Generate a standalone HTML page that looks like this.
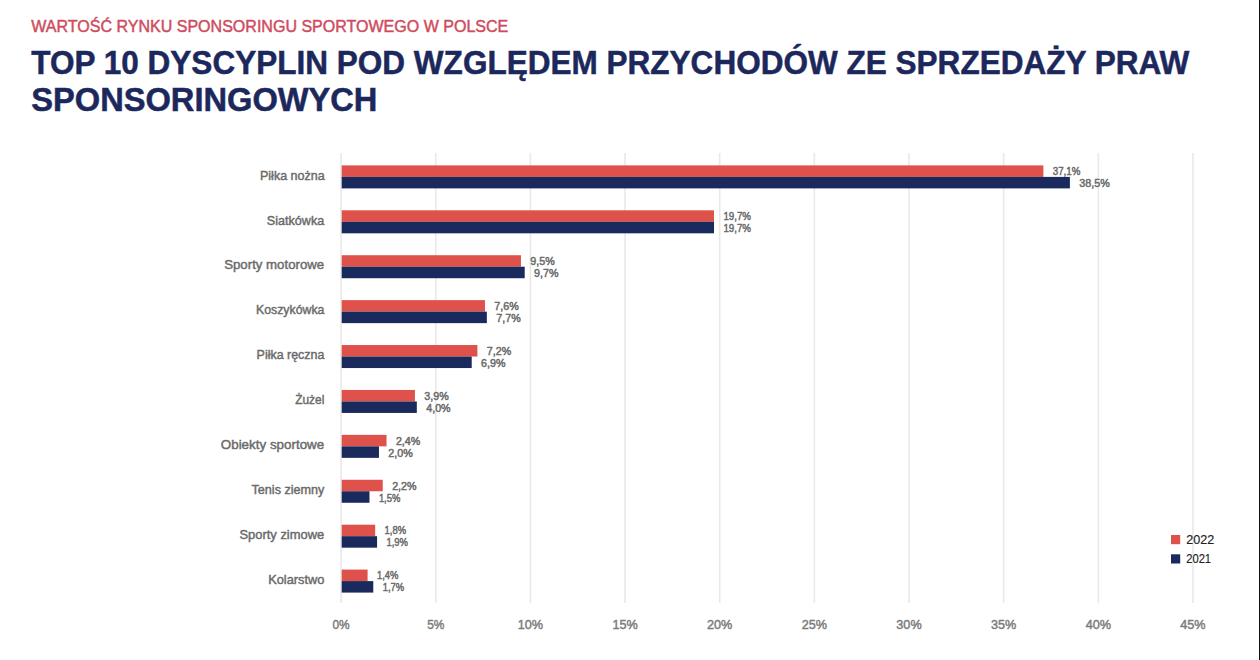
<!DOCTYPE html>
<html><head><meta charset="utf-8"><style>
html,body{margin:0;padding:0;background:#fff;}
body{width:1260px;height:660px;overflow:hidden;}
svg{display:block;}
text{font-family:"Liberation Sans",sans-serif;}
.st{font-size:16px;fill:#CF4C5E;stroke:#CF4C5E;stroke-width:0.45px;}
.t1,.t2{font-size:32.5px;font-weight:bold;fill:#1C285C;stroke:#1C285C;stroke-width:0.5px;}
.cl{font-size:13.5px;fill:#6A6A6A;stroke:#6A6A6A;stroke-width:0.45px;}
.dl{font-size:11.5px;fill:#6A6A6A;stroke:#6A6A6A;stroke-width:0.5px;}
.al{font-size:13.4px;fill:#7A7A7A;stroke:#7A7A7A;stroke-width:0.45px;}
.lg{font-size:12.3px;fill:#222;stroke:#222;stroke-width:0.15px;}
</style></head><body>
<svg width="1260" height="660" viewBox="0 0 1260 660">
<rect width="1260" height="660" fill="#fff"/>
<rect x="340.30" y="153" width="1.6" height="450" fill="#E9E9E9"/>
<rect x="434.95" y="153" width="1.6" height="450" fill="#E9E9E9"/>
<rect x="529.60" y="153" width="1.6" height="450" fill="#E9E9E9"/>
<rect x="624.25" y="153" width="1.6" height="450" fill="#E9E9E9"/>
<rect x="718.90" y="153" width="1.6" height="450" fill="#E9E9E9"/>
<rect x="813.55" y="153" width="1.6" height="450" fill="#E9E9E9"/>
<rect x="908.20" y="153" width="1.6" height="450" fill="#E9E9E9"/>
<rect x="1002.85" y="153" width="1.6" height="450" fill="#E9E9E9"/>
<rect x="1097.50" y="153" width="1.6" height="450" fill="#E9E9E9"/>
<rect x="1192.15" y="153" width="1.6" height="450" fill="#E9E9E9"/>
<rect x="341.70" y="165.40" width="701.70" height="11.5" fill="#DF514B"/>
<rect x="341.70" y="176.90" width="728.20" height="11.5" fill="#1B2A5D"/>
<text class="dl" x="1052.80" y="175.20" textLength="27.60" lengthAdjust="spacingAndGlyphs">37,1%</text>
<text class="dl" x="1079.31" y="187.20" textLength="30.50" lengthAdjust="spacingAndGlyphs">38,5%</text>
<text class="cl" x="260.00" y="179.60" textLength="64.60" lengthAdjust="spacingAndGlyphs">Piłka nożna</text>
<rect x="341.70" y="210.31" width="372.32" height="11.5" fill="#DF514B"/>
<rect x="341.70" y="221.81" width="372.32" height="11.5" fill="#1B2A5D"/>
<text class="dl" x="723.42" y="220.11" textLength="27.60" lengthAdjust="spacingAndGlyphs">19,7%</text>
<text class="dl" x="723.42" y="232.11" textLength="27.60" lengthAdjust="spacingAndGlyphs">19,7%</text>
<text class="cl" x="266.80" y="224.51" textLength="57.40" lengthAdjust="spacingAndGlyphs">Siatkówka</text>
<rect x="341.70" y="255.22" width="179.24" height="11.5" fill="#DF514B"/>
<rect x="341.70" y="266.72" width="183.02" height="11.5" fill="#1B2A5D"/>
<text class="dl" x="530.34" y="265.02" textLength="24.40" lengthAdjust="spacingAndGlyphs">9,5%</text>
<text class="dl" x="534.12" y="277.02" textLength="24.40" lengthAdjust="spacingAndGlyphs">9,7%</text>
<text class="cl" x="224.20" y="269.42" textLength="100.00" lengthAdjust="spacingAndGlyphs">Sporty motorowe</text>
<rect x="341.70" y="300.13" width="143.27" height="11.5" fill="#DF514B"/>
<rect x="341.70" y="311.63" width="145.16" height="11.5" fill="#1B2A5D"/>
<text class="dl" x="494.37" y="309.93" textLength="24.40" lengthAdjust="spacingAndGlyphs">7,6%</text>
<text class="dl" x="496.26" y="321.93" textLength="24.40" lengthAdjust="spacingAndGlyphs">7,7%</text>
<text class="cl" x="256.00" y="314.33" textLength="68.40" lengthAdjust="spacingAndGlyphs">Koszykówka</text>
<rect x="341.70" y="345.04" width="135.70" height="11.5" fill="#DF514B"/>
<rect x="341.70" y="356.54" width="130.02" height="11.5" fill="#1B2A5D"/>
<text class="dl" x="486.80" y="354.84" textLength="24.40" lengthAdjust="spacingAndGlyphs">7,2%</text>
<text class="dl" x="481.12" y="366.84" textLength="24.40" lengthAdjust="spacingAndGlyphs">6,9%</text>
<text class="cl" x="256.60" y="359.24" textLength="67.80" lengthAdjust="spacingAndGlyphs">Piłka ręczna</text>
<rect x="341.70" y="389.95" width="73.23" height="11.5" fill="#DF514B"/>
<rect x="341.70" y="401.45" width="75.12" height="11.5" fill="#1B2A5D"/>
<text class="dl" x="424.33" y="399.75" textLength="24.40" lengthAdjust="spacingAndGlyphs">3,9%</text>
<text class="dl" x="426.22" y="411.75" textLength="24.40" lengthAdjust="spacingAndGlyphs">4,0%</text>
<text class="cl" x="295.20" y="404.15" textLength="29.20" lengthAdjust="spacingAndGlyphs">Żużel</text>
<rect x="341.70" y="434.86" width="44.83" height="11.5" fill="#DF514B"/>
<rect x="341.70" y="446.36" width="37.26" height="11.5" fill="#1B2A5D"/>
<text class="dl" x="395.93" y="444.66" textLength="24.40" lengthAdjust="spacingAndGlyphs">2,4%</text>
<text class="dl" x="388.36" y="456.66" textLength="24.40" lengthAdjust="spacingAndGlyphs">2,0%</text>
<text class="cl" x="220.80" y="449.06" textLength="103.40" lengthAdjust="spacingAndGlyphs">Obiekty sportowe</text>
<rect x="341.70" y="479.77" width="41.05" height="11.5" fill="#DF514B"/>
<rect x="341.70" y="491.27" width="27.79" height="11.5" fill="#1B2A5D"/>
<text class="dl" x="392.15" y="489.57" textLength="24.40" lengthAdjust="spacingAndGlyphs">2,2%</text>
<text class="dl" x="378.89" y="501.57" textLength="21.50" lengthAdjust="spacingAndGlyphs">1,5%</text>
<text class="cl" x="251.50" y="493.97" textLength="72.90" lengthAdjust="spacingAndGlyphs">Tenis ziemny</text>
<rect x="341.70" y="524.68" width="33.47" height="11.5" fill="#DF514B"/>
<rect x="341.70" y="536.18" width="35.37" height="11.5" fill="#1B2A5D"/>
<text class="dl" x="384.57" y="534.48" textLength="21.50" lengthAdjust="spacingAndGlyphs">1,8%</text>
<text class="dl" x="386.47" y="546.48" textLength="21.50" lengthAdjust="spacingAndGlyphs">1,9%</text>
<text class="cl" x="239.50" y="538.88" textLength="84.70" lengthAdjust="spacingAndGlyphs">Sporty zimowe</text>
<rect x="341.70" y="569.59" width="25.90" height="11.5" fill="#DF514B"/>
<rect x="341.70" y="581.09" width="31.58" height="11.5" fill="#1B2A5D"/>
<text class="dl" x="377.00" y="579.39" textLength="21.50" lengthAdjust="spacingAndGlyphs">1,4%</text>
<text class="dl" x="382.68" y="591.39" textLength="21.50" lengthAdjust="spacingAndGlyphs">1,7%</text>
<text class="cl" x="268.20" y="583.79" textLength="56.30" lengthAdjust="spacingAndGlyphs">Kolarstwo</text>
<text class="al" x="332.50" y="628.70" textLength="17.20" lengthAdjust="spacingAndGlyphs">0%</text>
<text class="al" x="427.15" y="628.70" textLength="17.20" lengthAdjust="spacingAndGlyphs">5%</text>
<text class="al" x="517.75" y="628.70" textLength="25.30" lengthAdjust="spacingAndGlyphs">10%</text>
<text class="al" x="612.40" y="628.70" textLength="25.30" lengthAdjust="spacingAndGlyphs">15%</text>
<text class="al" x="707.05" y="628.70" textLength="25.30" lengthAdjust="spacingAndGlyphs">20%</text>
<text class="al" x="801.70" y="628.70" textLength="25.30" lengthAdjust="spacingAndGlyphs">25%</text>
<text class="al" x="896.35" y="628.70" textLength="25.30" lengthAdjust="spacingAndGlyphs">30%</text>
<text class="al" x="991.00" y="628.70" textLength="25.30" lengthAdjust="spacingAndGlyphs">35%</text>
<text class="al" x="1085.65" y="628.70" textLength="25.30" lengthAdjust="spacingAndGlyphs">40%</text>
<text class="al" x="1180.30" y="628.70" textLength="25.30" lengthAdjust="spacingAndGlyphs">45%</text>
<rect x="1171" y="535" width="9.2" height="9.2" fill="#DF514B"/>
<rect x="1171" y="554.3" width="9.2" height="9.2" fill="#1B2A5D"/>
<text class="lg" x="1186.20" y="543.70" textLength="28.00" lengthAdjust="spacingAndGlyphs">2022</text>
<text class="lg" x="1186.20" y="562.80" textLength="24.90" lengthAdjust="spacingAndGlyphs">2021</text>
<text class="st" x="31.30" y="31.60" textLength="477.00" lengthAdjust="spacingAndGlyphs">WARTOŚĆ RYNKU SPONSORINGU SPORTOWEGO W POLSCE</text>
<text class="t1" x="31.30" y="73.70" textLength="1158.00" lengthAdjust="spacingAndGlyphs">TOP 10 DYSCYPLIN POD WZGLĘDEM PRZYCHODÓW ZE SPRZEDAŻY PRAW</text>
<text class="t2" x="31.30" y="110.70" textLength="346.10" lengthAdjust="spacingAndGlyphs">SPONSORINGOWYCH</text>
<rect x="1259" y="0" width="1" height="660" fill="#111"/>
</svg>
</body></html>
